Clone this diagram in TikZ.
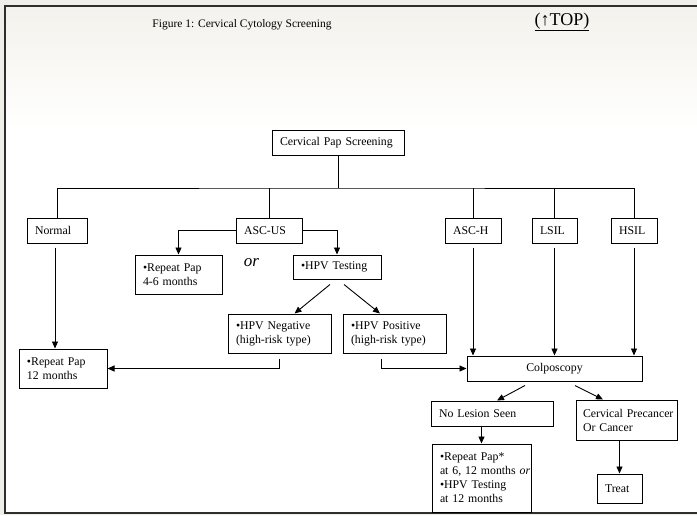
\documentclass[tikz,border=0pt]{standalone}
\usepackage{fontspec}
\setmainfont{Liberation Serif}
\usetikzlibrary{arrows.meta, positioning, calc}
\definecolor{frameGray}{HTML}{2E2E2E}
\definecolor{pageTint}{HTML}{EFEEE9}
\definecolor{topTint}{HTML}{F3F2EC}
\tikzset{
	box/.style={rectangle, draw=black, line width=1pt, inner xsep=8pt, inner ysep=1pt, align=left, font=\fontsize{11.8}{14}\selectfont},
	line/.style={line width=0.9pt},
	arrow/.style={line width=0.9pt, -{Triangle[length=7pt, width=6pt]}}
}

\begin{document}
\begin{tikzpicture}[x=1pt, y=-1pt, node distance=11pt]
		% Page and frame
		\useasboundingbox (0,0) rectangle (697,515);
		\fill [pageTint] (0,0) rectangle (697,515);
		\shade [top color=topTint, bottom color=white] (5,6) rectangle (697,130);
		\fill [white] (5,130) rectangle (697,513);
		\draw [frameGray, line width=2.5pt] (710,6) -- (5,6) -- (5,513) -- (710,513);
		
		% Title
		\node (title) at (242,25) {\fontsize{11.5}{13}\selectfont Figure 1: Cervical Cytology Screening};
		\node (top) at (562,22) {\fontsize{18}{20}\selectfont\underline{(↑TOP)}};
		
		% Screening and results
		\node (pap) [box, text width=116pt, minimum height=25pt] at (338,142.5) {Cervical Pap Screening};
		\coordinate (bus) at (338,188);
		\node (normal) [box, text width=44pt, minimum height=25pt, below=62pt of pap, xshift=-281pt] {Normal};
		\node (ascus) [box, text width=50pt, minimum height=25pt, below=62pt of pap, xshift=-69pt] {ASC-US};
		\node (asch) [box, text width=40pt, minimum height=25pt, below=62pt of pap, xshift=135pt] {ASC-H};
		\node (lsil) [box, text width=29pt, minimum height=25pt, below=62pt of pap, xshift=216.5pt] {LSIL};
		\node (hsil) [box, text width=30pt, minimum height=25pt, below=62pt of pap, xshift=296pt] {HSIL};
		
		% ASC-US branch
		\node (rep46) [box, text width=71pt, minimum height=39pt, below=of ascus, xshift=-90.5pt] {•Repeat Pap\\4-6 months};
		\node (or) at (251.5,263) {\fontsize{17}{20}\selectfont\itshape or};
		\node (hpvtest) [box, text width=72pt, minimum height=24pt, below=of ascus, xshift=68pt] {•HPV Testing};
		\node (hpvneg) [box, text width=87pt, minimum height=39pt, below=34pt of hpvtest, xshift=-57.5pt] {•HPV Negative\\(high-risk type)};
		\node (hpvpos) [box, text width=87pt, minimum height=39pt, below=34pt of hpvtest, xshift=57.5pt] {•HPV Positive\\(high-risk type)};
		\node (rep12) [box, text width=72pt, minimum height=39pt, below=105pt of normal, xshift=6pt] {•Repeat Pap\\12 months};
		
		% Colposcopy
		\node (colpo) [box, text width=159pt, align=center, minimum height=25pt, below=112pt of lsil] {Colposcopy};
		\node (nolesion) [box, text width=106pt, minimum height=25pt, below=19pt of colpo, xshift=-62.5pt] {No Lesion Seen};
		\node (precancer) [box, inner xsep=3pt, text width=95pt, minimum height=40pt, below=18pt of colpo, xshift=72pt] {\hspace*{4pt}Cervical Precancer\\\hspace*{4pt}Or Cancer};
		\node (reppap) [box, inner xsep=1pt, text width=97pt, minimum height=68pt, below=17pt of nolesion, xshift=-10.5pt] {\hspace*{7pt}•Repeat Pap*\\\hspace*{7pt}\mbox{at 6, 12 months \textit{or}}\\\hspace*{7pt}•HPV Testing\\\hspace*{7pt}at 12 months};
		\node (treat) [box, text width=29pt, minimum height=29pt, below=33pt of precancer, xshift=-7pt] {Treat};
		
		% Connections
		\draw [line] (pap) -- (bus);
		\draw [line] (normal.north) |- (bus) -| (hsil.north);
		\draw [line] (ascus.north) -- (ascus.north |- bus);
		\draw [line] (asch.north) -- (asch.north |- bus);
		\draw [line] (lsil.north) -- (lsil.north |- bus);
		
		\draw [arrow] (ascus.west) -| (rep46.north);
		\draw [arrow] (ascus.east) -| (hpvtest.north);
		\draw [arrow] ([xshift=-7pt, yshift=-5pt]hpvtest.south) -- ([xshift=15pt]hpvneg.north);
		\draw [arrow] ([xshift=7pt, yshift=-5pt]hpvtest.south) -- ([xshift=-14.5pt]hpvpos.north);
		\draw [arrow, shorten <=4pt] ([xshift=-2pt]normal.south) -- ([xshift=-2pt]normal.south |- rep12.north);
		\draw [arrow] ([yshift=-5pt]hpvneg.south) |- (rep12.east);
		\draw [arrow] ([xshift=-13.5pt, yshift=-5pt]hpvpos.south) |- (colpo.west);
		
		\draw [arrow, shorten <=4pt] (asch.south) -- (asch.south |- colpo.north);
		\draw [arrow, shorten <=4pt] (lsil.south) -- (lsil.south |- colpo.north);
		\draw [arrow, shorten <=4pt] (hsil.south) -- (hsil.south |- colpo.north);
		\draw [arrow] ([xshift=-29.5pt, yshift=-4pt]colpo.south) -- ([xshift=5pt]nolesion.north);
		\draw [arrow] ([xshift=20.5pt, yshift=-4pt]colpo.south) -- ([xshift=-23.5pt]precancer.north);
		\draw [arrow] (nolesion.south -| reppap.north) -- (reppap.north);
		\draw [arrow] (precancer.south -| treat.north) -- (treat.north);
	\end{tikzpicture}
\end{document}
